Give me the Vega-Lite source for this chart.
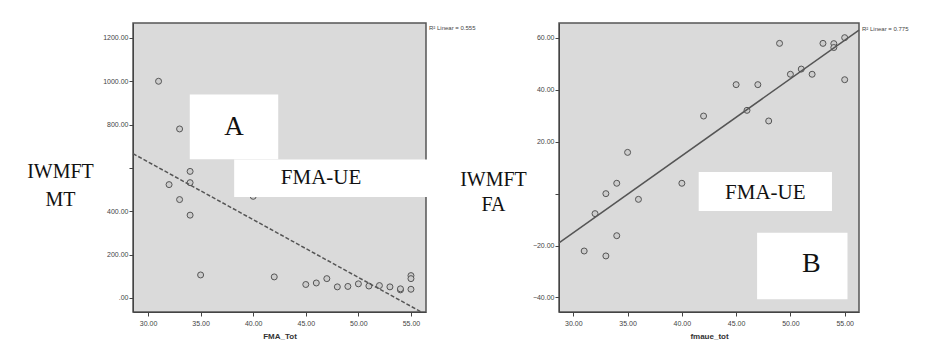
{
  "$schema": "https://vega.github.io/schema/vega-lite/v6.json",
  "padding": {"left": 25, "top": 22, "right": 0, "bottom": 0},
  "background": "white",
  "spacing": 133,
  "bounds": "flush",
  "config": {
    "view": {"fill": "#dadada", "stroke": "#555555", "strokeWidth": 1.5},
    "axis": {
      "grid": false,
      "domainColor": "#444444",
      "tickColor": "#444444",
      "tickSize": 4,
      "labelFontSize": 7,
      "labelColor": "#444444",
      "labelFont": "Liberation Sans",
      "titleFont": "Liberation Sans",
      "titleFontSize": 8,
      "titleColor": "#333333"
    }
  },
  "datasets": {
    "leftPts": [
      {"fma": 31, "mt": 1000}, {"fma": 33, "mt": 780}, {"fma": 34, "mt": 584}, {"fma": 34, "mt": 532},
      {"fma": 32, "mt": 523}, {"fma": 33, "mt": 454}, {"fma": 34, "mt": 382}, {"fma": 35, "mt": 106},
      {"fma": 40, "mt": 469}, {"fma": 42, "mt": 97}, {"fma": 45, "mt": 62}, {"fma": 46, "mt": 69},
      {"fma": 47, "mt": 89}, {"fma": 48, "mt": 51}, {"fma": 49, "mt": 53}, {"fma": 50, "mt": 65},
      {"fma": 51, "mt": 55}, {"fma": 52, "mt": 57}, {"fma": 53, "mt": 51}, {"fma": 54, "mt": 37},
      {"fma": 54, "mt": 42}, {"fma": 55, "mt": 40}, {"fma": 55, "mt": 103}, {"fma": 55, "mt": 89}
    ],
    "leftLine": [{"fma": 28.57, "mt": 666}, {"fma": 55.97, "mt": -64.6}],
    "leftBoxes": [
      {"fma": 33.97, "fma2": 42.38, "mt": 640, "mt2": 938.7},
      {"fma": 38.19, "fma2": 57.88, "mt": 466, "mt2": 639}
    ],
    "leftText": [
      {"label": "A", "fma": 38.18, "mt": 787},
      {"label": "FMA-UE", "fma": 46.45, "mt": 552},
      {"label": "R² Linear = 0.555", "fma": 56.43, "mt": 1245}
    ],
    "rightPts": [
      {"fmaue": 31, "fa": -22.1}, {"fmaue": 32, "fa": -7.7}, {"fmaue": 33, "fa": 0}, {"fmaue": 33, "fa": -24.0},
      {"fmaue": 34, "fa": 4.0}, {"fmaue": 34, "fa": -16.2}, {"fmaue": 35, "fa": 15.9}, {"fmaue": 36, "fa": -2.2},
      {"fmaue": 40, "fa": 4.0}, {"fmaue": 42, "fa": 29.9}, {"fmaue": 45, "fa": 42.0}, {"fmaue": 46, "fa": 32.1},
      {"fmaue": 47, "fa": 42.0}, {"fmaue": 48, "fa": 28.0}, {"fmaue": 49, "fa": 57.9}, {"fmaue": 50, "fa": 46.0},
      {"fmaue": 51, "fa": 48.0}, {"fmaue": 52, "fa": 46.0}, {"fmaue": 53, "fa": 57.9}, {"fmaue": 54, "fa": 57.8},
      {"fmaue": 54, "fa": 56.3}, {"fmaue": 55, "fa": 60.1}, {"fmaue": 55, "fa": 43.9}
    ],
    "rightLine": [{"fmaue": 28.68, "fa": -19.0}, {"fmaue": 56.32, "fa": 63.0}],
    "rightBoxes": [
      {"fmaue": 41.55, "fmaue2": 53.83, "fa": -6.71, "fa2": 8.32},
      {"fmaue": 46.93, "fmaue2": 55.26, "fa": -40.73, "fa2": -15.03}
    ],
    "rightText": [
      {"label": "FMA-UE", "fmaue": 47.69, "fa": 0.1},
      {"label": "B", "fmaue": 51.92, "fa": -27.2},
      {"label": "R² Linear = 0.775", "fmaue": 56.32, "fa": 63.3}
    ]
  },
  "hconcat": [
    {
      "width": 293,
      "height": 289,
      "layer": [
        {
          "data": {"name": "leftPts"},
          "mark": {"type": "point", "shape": "circle", "filled": true, "fill": "#cccccc", "stroke": "#555555", "strokeWidth": 1, "size": 36, "opacity": 1},
          "encoding": {
            "x": {
              "field": "fma", "type": "quantitative",
              "scale": {"domain": [28.57, 56.43], "nice": false, "zero": false},
              "axis": {"values": [30, 35, 40, 45, 50, 55], "format": ".2f", "title": "FMA_Tot", "titleFontWeight": "bold", "labelPadding": 3, "titlePadding": 6}
            },
            "y": {
              "field": "mt", "type": "quantitative",
              "scale": {"domain": [-65, 1269], "nice": false, "zero": false},
              "axis": {
                "values": [0, 200, 400, 600, 800, 1000, 1200],
                "labelExpr": "datum.value == 0 ? '.00' : (datum.value == 600 ? '' : format(datum.value, '.2f'))",
                "labelPadding": 1,
                "title": ["IWMFT", "MT"],
                "titleAngle": 0,
                "titleFont": "Liberation Serif",
                "titleFontSize": 20,
                "titleFontWeight": "normal",
                "titleColor": "#111111",
                "titleAlign": "center",
                "titleBaseline": "alphabetic",
                "titleX": -73,
                "titleY": 154,
                "titleLineHeight": 28
              }
            }
          }
        },
        {
          "data": {"name": "leftLine"},
          "mark": {"type": "line", "color": "#555555", "strokeWidth": 1.5, "strokeDash": [4, 2]},
          "encoding": {"x": {"field": "fma", "type": "quantitative"}, "y": {"field": "mt", "type": "quantitative"}}
        },
        {
          "data": {"name": "leftBoxes"},
          "mark": {"type": "rect", "fill": "white"},
          "encoding": {
            "x": {"field": "fma", "type": "quantitative"}, "x2": {"field": "fma2"},
            "y": {"field": "mt", "type": "quantitative"}, "y2": {"field": "mt2"}
          }
        },
        {
          "data": {"name": "leftText"},
          "transform": [{"filter": "datum.label == 'A'"}],
          "mark": {"type": "text", "font": "Liberation Serif", "fontSize": 27, "color": "#111111"},
          "encoding": {"x": {"field": "fma", "type": "quantitative"}, "y": {"field": "mt", "type": "quantitative"}, "text": {"field": "label"}}
        },
        {
          "data": {"name": "leftText"},
          "transform": [{"filter": "datum.label == 'FMA-UE'"}],
          "mark": {"type": "text", "font": "Liberation Serif", "fontSize": 21, "color": "#111111"},
          "encoding": {"x": {"field": "fma", "type": "quantitative"}, "y": {"field": "mt", "type": "quantitative"}, "text": {"field": "label"}}
        },
        {
          "data": {"name": "leftText"},
          "transform": [{"filter": "indexof(datum.label, 'Linear') >= 0"}],
          "mark": {"type": "text", "font": "Liberation Sans", "fontSize": 6, "color": "#444444", "align": "left", "dx": 3},
          "encoding": {"x": {"field": "fma", "type": "quantitative"}, "y": {"field": "mt", "type": "quantitative"}, "text": {"field": "label"}}
        }
      ]
    },
    {
      "width": 300,
      "height": 289,
      "layer": [
        {
          "data": {"name": "rightPts"},
          "mark": {"type": "point", "shape": "circle", "filled": true, "fill": "#cccccc", "stroke": "#555555", "strokeWidth": 1, "size": 36, "opacity": 1},
          "encoding": {
            "x": {
              "field": "fmaue", "type": "quantitative",
              "scale": {"domain": [28.68, 56.32], "nice": false, "zero": false},
              "axis": {"values": [30, 35, 40, 45, 50, 55], "format": ".2f", "title": "fmaue_tot", "titleFontWeight": "bold", "labelPadding": 3, "titlePadding": 6}
            },
            "y": {
              "field": "fa", "type": "quantitative",
              "scale": {"domain": [-45.6, 65.75], "nice": false, "zero": false},
              "axis": {
                "values": [-40, -20, 0, 20, 40, 60],
                "labelExpr": "datum.value == 0 ? '' : format(datum.value, '.2f')",
                "labelPadding": 1,
                "title": ["IWMFT", "FA"],
                "titleAngle": 0,
                "titleFont": "Liberation Serif",
                "titleFontSize": 20,
                "titleFontWeight": "normal",
                "titleColor": "#111111",
                "titleAlign": "center",
                "titleBaseline": "alphabetic",
                "titleX": -66,
                "titleY": 162,
                "titleLineHeight": 25
              }
            }
          }
        },
        {
          "data": {"name": "rightLine"},
          "mark": {"type": "line", "color": "#555555", "strokeWidth": 1.5},
          "encoding": {"x": {"field": "fmaue", "type": "quantitative"}, "y": {"field": "fa", "type": "quantitative"}}
        },
        {
          "data": {"name": "rightBoxes"},
          "mark": {"type": "rect", "fill": "white"},
          "encoding": {
            "x": {"field": "fmaue", "type": "quantitative"}, "x2": {"field": "fmaue2"},
            "y": {"field": "fa", "type": "quantitative"}, "y2": {"field": "fa2"}
          }
        },
        {
          "data": {"name": "rightText"},
          "transform": [{"filter": "datum.label == 'B'"}],
          "mark": {"type": "text", "font": "Liberation Serif", "fontSize": 28, "color": "#111111"},
          "encoding": {"x": {"field": "fmaue", "type": "quantitative"}, "y": {"field": "fa", "type": "quantitative"}, "text": {"field": "label"}}
        },
        {
          "data": {"name": "rightText"},
          "transform": [{"filter": "datum.label == 'FMA-UE'"}],
          "mark": {"type": "text", "font": "Liberation Serif", "fontSize": 21, "color": "#111111"},
          "encoding": {"x": {"field": "fmaue", "type": "quantitative"}, "y": {"field": "fa", "type": "quantitative"}, "text": {"field": "label"}}
        },
        {
          "data": {"name": "rightText"},
          "transform": [{"filter": "indexof(datum.label, 'Linear') >= 0"}],
          "mark": {"type": "text", "font": "Liberation Sans", "fontSize": 6, "color": "#444444", "align": "left", "dx": 3},
          "encoding": {"x": {"field": "fmaue", "type": "quantitative"}, "y": {"field": "fa", "type": "quantitative"}, "text": {"field": "label"}}
        }
      ]
    }
  ]
}
